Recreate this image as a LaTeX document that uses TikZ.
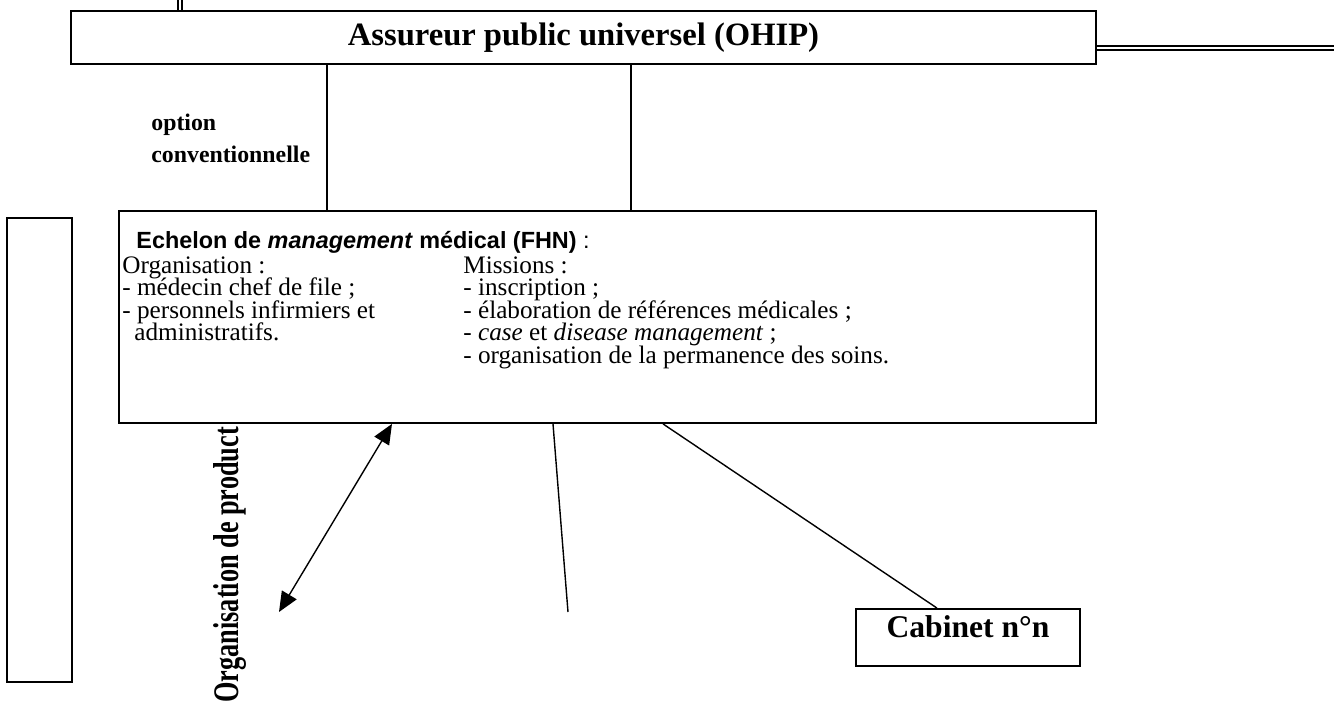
\documentclass[tikz,border=0pt]{standalone}
\usepackage{fontspec}
\setmainfont{Liberation Serif}
\newfontfamily\arialfont{Liberation Sans}
\usetikzlibrary{arrows.meta}
\lineskiplimit=-5pt

\begin{document}
\begin{tikzpicture}[x=0.5pt, y=-0.5pt,
  box/.style={draw, line width=0.9pt, inner sep=0pt},
  txt/.style={inner sep=0pt, align=left, anchor=north west},
  ln/.style={line width=0.7pt},
  dbl/.style={double, line width=0.9pt, double distance=1.1pt}]
\useasboundingbox (0,0) rectangle (1334,701);

\node[box, minimum width=512.5pt, text height=17.5pt, text depth=9pt, font=\fontsize{16.3}{19}\selectfont\bfseries] (ohip) at (583.5,37.5) {Assureur public universel (OHIP)};
\node[inner sep=0pt, rotate=90, anchor=base west, font=\fontsize{18}{20}\selectfont\bfseries] (prod) at (238,703) {\scalebox{0.73}[1]{Organisation de product}};
\node[box, fill=white, minimum width=488.5pt, minimum height=106pt] (fhn) at (607.5,317) {};
\node[box, minimum width=32.5pt, minimum height=232pt] (side) at (39.5,450) {};
\node[box, minimum width=112pt, text height=14pt, text depth=14.5pt, font=\fontsize{15.8}{18}\selectfont\bfseries] (cab) at (968,637.5) {Cabinet n°n};

\node[txt, font=\fontsize{11.9}{16}\selectfont\bfseries] (opt) at (151,114) {option\\conventionnelle};
\node[txt, font=\arialfont\fontsize{11.7}{14}\selectfont] (head) at (136,231) {\textbf{Echelon de \textit{management} médical (FHN)} :};
\node[txt, font=\fontsize{12.6}{11.25}\selectfont] (orga) at (122,256) {Organisation :\\- médecin chef de file ;\\- personnels infirmiers et\\\hspace*{6pt}administratifs.};
\node[txt, font=\fontsize{12.6}{11.25}\selectfont] (miss) at (463,256) {Missions :\\- inscription ;\\- élaboration de références médicales ;\\- \textit{case} et \textit{disease management} ;\\- organisation de la permanence des soins.};

\coordinate (o1) at (327,0);
\coordinate (o2) at (631,0);
\coordinate (t1) at (180,0);
\coordinate (r1) at (1334,48);
\coordinate (a0) at (392,0);
\coordinate (a1) at (279,612);
\coordinate (b0) at (553,0);
\coordinate (b1) at (568,612);
\coordinate (c0) at (663,0);
\coordinate (c1) at (937,0);

\draw[ln] (ohip.south -| o1) -- (fhn.north -| o1);
\draw[ln] (ohip.south -| o2) -- (fhn.north -| o2);
\draw[dbl] (t1) -- (ohip.north -| t1);
\draw[dbl] (ohip.east |- r1) -- (r1);
\draw[ln, {Triangle[length=10pt,width=8.5pt]}-{Triangle[length=10pt,width=8.5pt]}] (fhn.south -| a0) -- (a1);
\draw[ln] (fhn.south -| b0) -- (b1);
\draw[ln] (fhn.south -| c0) -- (cab.north -| c1);
\end{tikzpicture}
\end{document}
